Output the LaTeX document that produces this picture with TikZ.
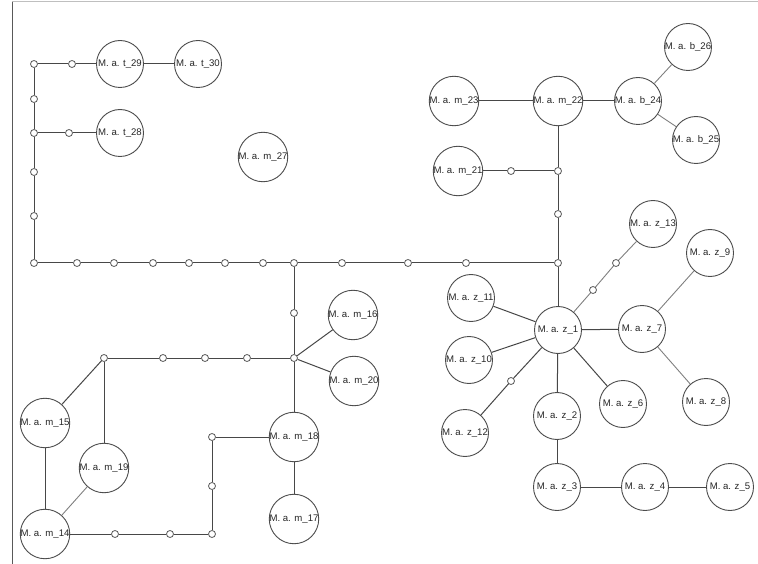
\documentclass[tikz,border=0pt]{standalone}
\usepackage{fontspec}
\setmainfont{Liberation Sans}
\begin{document}
\begin{tikzpicture}[x=1pt,y=-1pt,
  big/.style={circle,draw=black!70,line width=0.9pt,minimum size=47pt,inner sep=0pt,fill=white,font=\fontsize{9.6}{11}\selectfont,text=black!85},
  jn/.style={circle,draw=black!65,line width=0.8pt,minimum size=7pt,inner sep=0pt,fill=white},
  ln/.style={draw=black!72,line width=1pt},
  lt/.style={draw=black!50,line width=0.9pt}]
\useasboundingbox (0,0) rectangle (758,564);
\fill[white] (0,0) rectangle (758,564);
\draw[black!25,line width=1pt] (12,2) -- (758,2);
\draw[black!65,line width=1pt] (12,2) -- (12,564);
% big nodes
\node[big] (t29) at (120,64) {M. a. t\_29};
\node[big] (t30) at (198,64) {M. a. t\_30};
\node[big] (t28) at (120,133) {M. a. t\_28};
\node[big] (m27) at (263,157) {M. a. m\_27};
\node[big] (m23) at (454,101) {M. a. m\_23};
\node[big] (m22) at (558,101) {M. a. m\_22};
\node[big] (b24) at (638,101) {M. a. b\_24};
\node[big] (b26) at (688,47) {M. a. b\_26};
\node[big] (b25) at (696,140) {M. a. b\_25};
\node[big] (m21) at (458,171) {M. a. m\_21};
\node[big] (z1) at (558,330) {M. a. z\_1};
\node[big] (z13) at (653,224) {M. a. z\_13};
\node[big] (z9) at (710,253) {M. a. z\_9};
\node[big] (z11) at (471,298) {M. a. z\_11};
\node[big] (z10) at (469,360) {M. a. z\_10};
\node[big] (z7) at (642,329) {M. a. z\_7};
\node[big] (z12) at (465,433) {M. a. z\_12};
\node[big] (z2) at (557,416) {M. a. z\_2};
\node[big] (z6) at (623,404) {M. a. z\_6};
\node[big] (z8) at (706,402) {M. a. z\_8};
\node[big] (z3) at (557,487) {M. a. z\_3};
\node[big] (z4) at (645,487) {M. a. z\_4};
\node[big] (z5) at (730,487) {M. a. z\_5};
\node[big] (m16) at (353,315) {M. a. m\_16};
\node[big] (m20) at (354,381) {M. a. m\_20};
\node[big] (m18) at (294,437) {M. a. m\_18};
\node[big] (m17) at (294,519) {M. a. m\_17};
\node[big] (m15) at (45,423) {M. a. m\_15};
\node[big] (m19) at (104,468) {M. a. m\_19};
\node[big] (m14) at (45,534) {M. a. m\_14};
% junctions
\node[jn] (j1) at (34,64) {};
\node[jn] (j2) at (34,99) {};
\node[jn] (j3) at (34,133) {};
\node[jn] (j4) at (34,172) {};
\node[jn] (j5) at (34,216) {};
\node[jn] (j6) at (34,263) {};
\node[jn] (j7) at (72,64) {};
\node[jn] (j8) at (69,133) {};
\node[jn] (h1) at (77,263) {};
\node[jn] (h2) at (114,263) {};
\node[jn] (h3) at (153,263) {};
\node[jn] (h4) at (189,263) {};
\node[jn] (h5) at (225,263) {};
\node[jn] (h6) at (263,263) {};
\node[jn] (h7) at (294,263) {};
\node[jn] (h8) at (342,263) {};
\node[jn] (h9) at (408,263) {};
\node[jn] (h10) at (466,263) {};
\node[jn] (h11) at (558,263) {};
\node[jn] (k1) at (558,171) {};
\node[jn] (k2) at (511,171) {};
\node[jn] (k3) at (558,214) {};
\node[jn] (v1) at (294,313) {};
\node[jn] (v2) at (294,358) {};
\node[jn] (w1) at (104,358) {};
\node[jn] (w2) at (163,358) {};
\node[jn] (w3) at (205,358) {};
\node[jn] (w4) at (247,358) {};
\node[jn] (c1) at (212,437) {};
\node[jn] (c2) at (212,486) {};
\node[jn] (c3) at (212,534) {};
\node[jn] (c4) at (170,534) {};
\node[jn] (c5) at (115,534) {};
\node[jn] (s1) at (593,290) {};
\node[jn] (s2) at (616,263) {};
\node[jn] (s3) at (511,381) {};
% edges
\path[ln] (t30) -- (t29) -- (j7) -- (j1) -- (j2) -- (j3) -- (j4) -- (j5) -- (j6);
\path[ln] (j3) -- (j8) -- (t28);
\path[ln] (j6) -- (h1) -- (h2) -- (h3) -- (h4) -- (h5) -- (h6) -- (h7) -- (h8) -- (h9) -- (h10) -- (h11);
\path[ln] (z1) -- (h11) -- (k3) -- (k1) -- (m22);
\path[ln] (k1) -- (k2) -- (m21);
\path[ln] (m23) -- (m22) -- (b24);
\path[lt] (b24) -- (b26);
\path[lt] (b24) -- (b25);
\path[ln] (h7) -- (v1) -- (v2) -- (m18) -- (m17);
\path[ln] (v2) -- (m16);
\path[ln] (v2) -- (m20);
\path[ln] (v2) -- (w4) -- (w3) -- (w2) -- (w1) -- (m19);
\path[ln] (w1) -- (m15);
\path[ln] (m15) -- (m14);
\path[lt] (m19) -- (m14);
\path[ln] (m18) -- (c1) -- (c2) -- (c3) -- (c4) -- (c5) -- (m14);
\path[lt] (z1) -- (s1) -- (s2) -- (z13);
\path[ln] (z1) -- (s3) -- (z12);
\path[ln] (z1) -- (z11);
\path[ln] (z1) -- (z10);
\path[ln] (z1) -- (z7);
\path[lt] (z7) -- (z9);
\path[lt] (z7) -- (z8);
\path[ln] (z1) -- (z6);
\path[ln] (z1) -- (z2);
\path[ln] (z2) -- (z3);
\path[ln] (z3) -- (z4) -- (z5);
\end{tikzpicture}
\end{document}
